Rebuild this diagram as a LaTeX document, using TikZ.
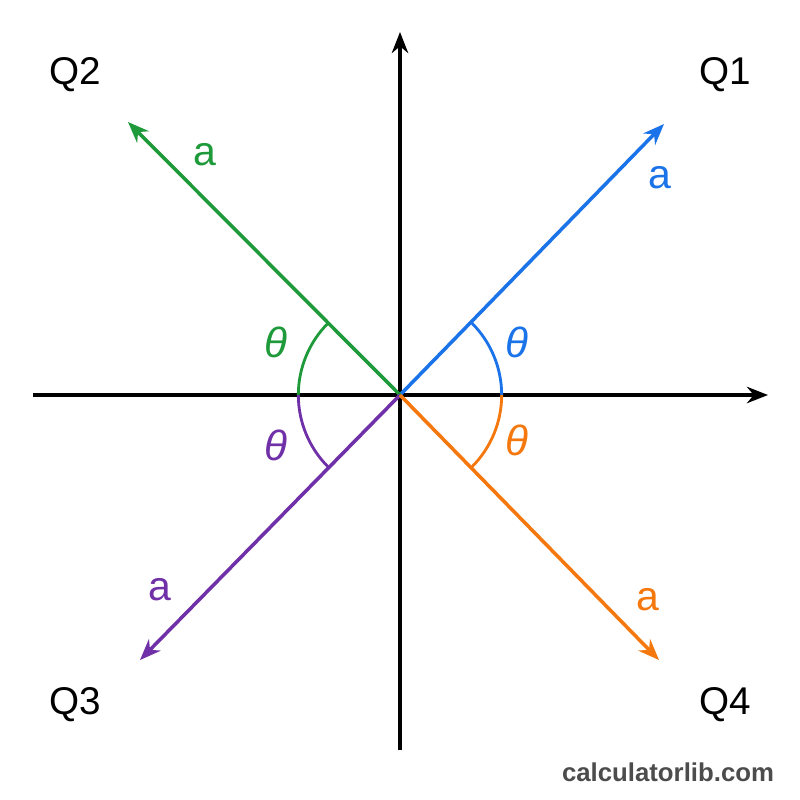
\documentclass[tikz,border=0pt]{standalone}
\usepackage{fontspec}
\setmainfont{Liberation Sans}
\usetikzlibrary{arrows.meta}
\definecolor{cblue}{HTML}{1A73E8}
\definecolor{cgreen}{HTML}{1E9A3A}
\definecolor{cpurple}{HTML}{7030A8}
\definecolor{corange}{HTML}{F5780F}
\begin{document}
\begin{tikzpicture}[x=0.03cm,y=-0.03cm,
  axis/.style={line width=2.8pt,-{Stealth[length=18pt,width=14pt]}},
  vec/.style={line width=3pt,-{Stealth[length=18pt,width=14pt]}},
  ang/.style={line width=2.4pt},
  q/.style={font=\fontsize{33}{33}\selectfont},
  lab/.style={font=\fontsize{35}{35}\selectfont},
  th/.style={font=\fontsize{36}{36}\selectfont\itshape}]
\useasboundingbox[fill=white] (0,0) rectangle (800,800);
\coordinate (O) at (400,395);
\coordinate (xl) at (33,395); \coordinate (xr) at (768,395);
\coordinate (yb) at (400,750); \coordinate (yt) at (400,32);
\draw[axis] (xl) -- (xr);
\draw[axis] (yb) -- (yt);
\coordinate (e1) at (664,124); \coordinate (e2) at (128,122);
\coordinate (e3) at (140,660); \coordinate (e4) at (659,660);
\draw[vec,cblue] (O) -- (e1);
\draw[vec,cgreen] (O) -- (e2);
\draw[vec,cpurple] (O) -- (e3);
\draw[vec,corange] (O) -- (e4);
\draw[ang,cblue] ([xshift=3.05cm]O) arc[start angle=0,end angle=45,radius=3.05cm];
\draw[ang,cgreen] ([xshift=-3.05cm]O) arc[start angle=180,end angle=135,radius=3.05cm];
\draw[ang,cpurple] ([xshift=-3.05cm]O) arc[start angle=180,end angle=225,radius=3.05cm];
\draw[ang,corange] ([xshift=3.05cm]O) arc[start angle=0,end angle=-45,radius=3.05cm];
\node[th,text=cblue] (t1) at (517,342) {θ};
\node[th,text=cgreen] (t2) at (276,342) {θ};
\node[th,text=cpurple] (t3) at (276,445) {θ};
\node[th,text=corange] (t4) at (517,440) {θ};
\node[lab,text=cblue] (a1) at (660,178) {a};
\node[lab,text=cgreen] (a2) at (205,155) {a};
\node[lab,text=cpurple] (a3) at (160,590) {a};
\node[lab,text=corange] (a4) at (648,600) {a};
\node[q] (q2) at (75,75) {Q2};
\node[q] (q1) at (725,75) {Q1};
\node[q] (q3) at (75,705) {Q3};
\node[q] (q4) at (725,705) {Q4};
\node[font=\fontsize{22}{22}\selectfont\bfseries,text=black!70] (wm) at (668,772) {calculatorlib.com};
\end{tikzpicture}
\end{document}
